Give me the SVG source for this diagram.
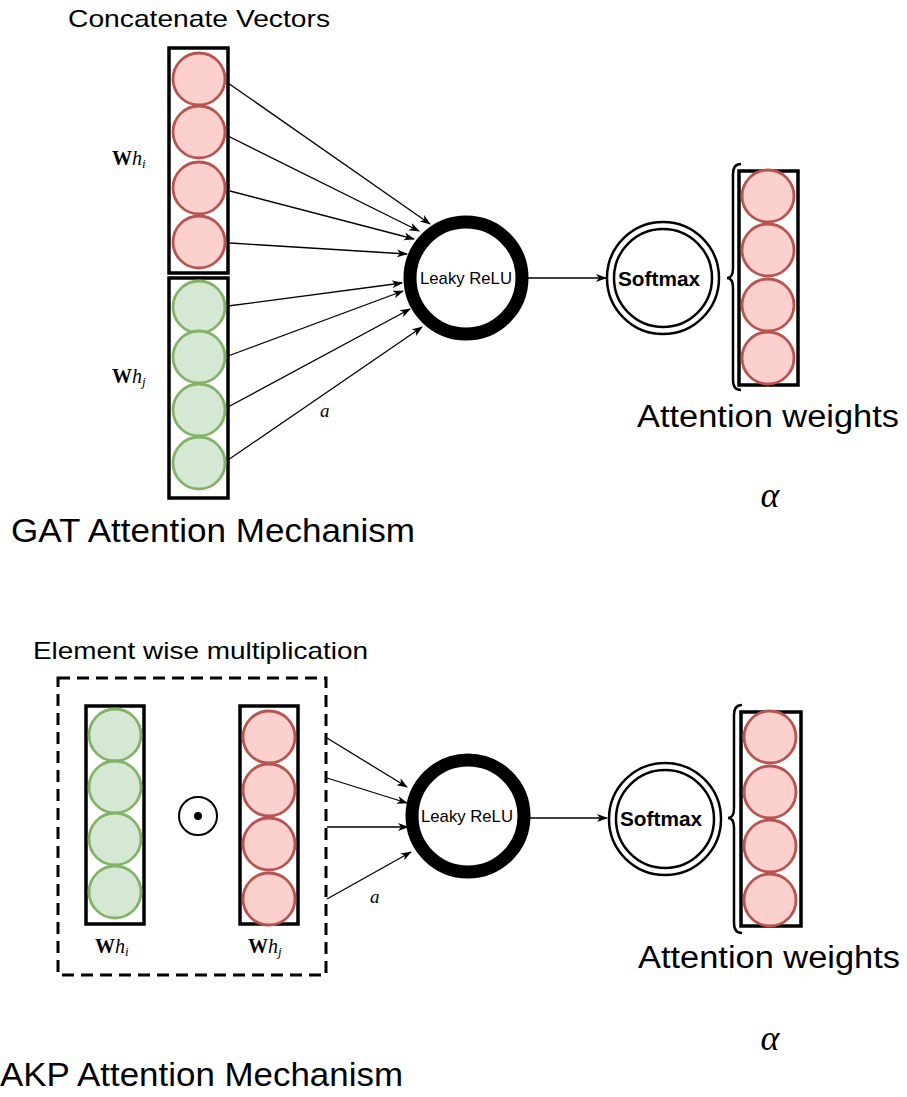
<svg xmlns="http://www.w3.org/2000/svg" width="907" height="1097" viewBox="0 0 907 1097">
<style>
.sans{font-family:"Liberation Sans",Arial,sans-serif;fill:#000}
.serif{font-family:"Liberation Serif","Times New Roman",serif;fill:#000}
.box{fill:#fff;stroke:#000;stroke-width:3.5}
.red{fill:#fcd0cc;stroke:#b85450;stroke-width:2.8}
.green{fill:#d5e8d4;stroke:#82b366;stroke-width:2.8}
.edge{stroke:#000;stroke-width:1.3;fill:none;marker-end:url(#ah)}
.relu{fill:#fff;stroke:#000;stroke-width:13}
.soft{fill:#fff;stroke:#000;stroke-width:2.5}
.brace{fill:none;stroke:#000;stroke-width:2.5}
</style>
<defs>
<marker id="ah" markerWidth="12" markerHeight="10" refX="10" refY="4" orient="auto" markerUnits="userSpaceOnUse">
<path d="M0,0 L11,4 L0,8 L3,4 z" fill="#000"/>
</marker>
</defs>
<rect width="907" height="1097" fill="#fff"/>

<!-- ===== Top: GAT ===== -->
<text class="sans" x="68" y="27" font-size="24" textLength="262" lengthAdjust="spacingAndGlyphs">Concatenate Vectors</text>

<g id="wh_i_concat">
<rect class="box" x="169" y="48" width="59" height="225"/>
<circle class="red" cx="199" cy="79" r="26"/>
<circle class="red" cx="199" cy="132" r="26"/>
<circle class="red" cx="199" cy="188" r="26"/>
<circle class="red" cx="199" cy="242" r="26"/>
</g>
<g id="wh_j_concat">
<rect class="box" x="169" y="278" width="59" height="220"/>
<circle class="green" cx="199" cy="307" r="26"/>
<circle class="green" cx="199" cy="357" r="26"/>
<circle class="green" cx="199" cy="410" r="26"/>
<circle class="green" cx="199" cy="463" r="26"/>
</g>
<text class="serif" x="112" y="165" font-size="20"><tspan font-weight="bold">W</tspan><tspan font-style="italic">h</tspan><tspan font-style="italic" font-size="13" dy="3">i</tspan></text>
<text class="serif" x="112" y="383" font-size="20"><tspan font-weight="bold">W</tspan><tspan font-style="italic">h</tspan><tspan font-style="italic" font-size="13" dy="3">j</tspan></text>

<g id="connectors_top">
<line class="edge" x1="228" y1="83" x2="430" y2="224"/>
<line class="edge" x1="228" y1="136" x2="419" y2="231"/>
<line class="edge" x1="230" y1="191" x2="414" y2="239"/>
<line class="edge" x1="230" y1="243" x2="407" y2="254"/>
<line class="edge" x1="228" y1="306" x2="402" y2="283"/>
<line class="edge" x1="228" y1="356" x2="403" y2="291"/>
<line class="edge" x1="228" y1="407" x2="410" y2="309"/>
<line class="edge" x1="228" y1="460" x2="422" y2="327"/>
<line class="edge" x1="528" y1="278" x2="606" y2="278"/>
</g>
<text class="serif" x="320" y="417" font-size="19" font-style="italic">a</text>

<g id="relu_top">
<circle class="relu" cx="466" cy="278" r="56"/>
<text class="sans" x="466" y="284" font-size="17" text-anchor="middle" textLength="92" lengthAdjust="spacingAndGlyphs">Leaky ReLU</text>
</g>
<g id="softmax_top">
<circle class="soft" cx="663" cy="278" r="56"/>
<circle class="soft" cx="663" cy="278" r="49"/>
<text class="sans" x="659" y="286" font-size="21" font-weight="bold" text-anchor="middle" textLength="82" lengthAdjust="spacingAndGlyphs">Softmax</text>
</g>
<g id="attn_top">
<path class="brace" d="M741,164 Q733,164 733,174 L733,268 Q733,278 727,278 Q733,278 733,288 L733,380 Q733,390 741,390"/>
<rect class="box" x="739" y="171" width="59" height="214"/>
<circle class="red" cx="768" cy="196" r="26"/>
<circle class="red" cx="768" cy="250" r="26"/>
<circle class="red" cx="768" cy="305" r="26"/>
<circle class="red" cx="768" cy="358" r="26"/>
<text class="sans" x="637" y="427" font-size="31" textLength="262" lengthAdjust="spacingAndGlyphs">Attention weights</text>
<text class="serif" x="770" y="507" font-size="36" font-style="italic" text-anchor="middle">α</text>
</g>
<text class="sans" x="11" y="542" font-size="34" textLength="404" lengthAdjust="spacingAndGlyphs">GAT Attention Mechanism</text>

<!-- ===== Bottom: AKP ===== -->
<text class="sans" x="33" y="659" font-size="24" textLength="335" lengthAdjust="spacingAndGlyphs">Element wise multiplication</text>

<g id="elementwise_group">
<rect x="58" y="678" width="268" height="297" fill="none" stroke="#000" stroke-width="3" stroke-dasharray="12 7"/>
<g id="wh_i_ew">
<rect class="box" x="86" y="706" width="58" height="218"/>
<circle class="green" cx="115" cy="735" r="26"/>
<circle class="green" cx="115" cy="787" r="26"/>
<circle class="green" cx="115" cy="839" r="26"/>
<circle class="green" cx="115" cy="892" r="26"/>
</g>
<g id="odot">
<circle cx="198" cy="816" r="19" fill="#fff" stroke="#000" stroke-width="2"/>
<circle cx="198" cy="816" r="4" fill="#000"/>
</g>
<g id="wh_j_ew">
<rect class="box" x="240" y="706" width="58" height="218"/>
<circle class="red" cx="269" cy="737" r="26"/>
<circle class="red" cx="269" cy="790" r="26"/>
<circle class="red" cx="269" cy="844" r="26"/>
<circle class="red" cx="269" cy="899" r="26"/>
</g>
<text class="serif" x="95" y="953" font-size="20"><tspan font-weight="bold">W</tspan><tspan font-style="italic">h</tspan><tspan font-style="italic" font-size="13" dy="3">i</tspan></text>
<text class="serif" x="248" y="953" font-size="20"><tspan font-weight="bold">W</tspan><tspan font-style="italic">h</tspan><tspan font-style="italic" font-size="13" dy="3">j</tspan></text>
</g>

<g id="connectors_bottom">
<line class="edge" x1="327" y1="738" x2="407" y2="787"/>
<line class="edge" x1="327" y1="778" x2="407" y2="803"/>
<line class="edge" x1="327" y1="827" x2="408" y2="827"/>
<line class="edge" x1="327" y1="899" x2="411" y2="852"/>
<line class="edge" x1="530" y1="818" x2="607" y2="818"/>
</g>
<text class="serif" x="370" y="903" font-size="19" font-style="italic">a</text>

<g id="relu_bottom">
<circle class="relu" cx="468" cy="816" r="56"/>
<text class="sans" x="467" y="822" font-size="17" text-anchor="middle" textLength="92" lengthAdjust="spacingAndGlyphs">Leaky ReLU</text>
</g>
<g id="softmax_bottom">
<circle class="soft" cx="665" cy="819" r="56"/>
<circle class="soft" cx="665" cy="819" r="49"/>
<text class="sans" x="661" y="826" font-size="21" font-weight="bold" text-anchor="middle" textLength="82" lengthAdjust="spacingAndGlyphs">Softmax</text>
</g>
<g id="attn_bottom">
<path class="brace" d="M742,705 Q734,705 734,715 L734,808 Q734,818 728,818 Q734,818 734,828 L734,923 Q734,933 742,933"/>
<rect class="box" x="741" y="712" width="60" height="214"/>
<circle class="red" cx="770" cy="737" r="26"/>
<circle class="red" cx="770" cy="792" r="26"/>
<circle class="red" cx="770" cy="846" r="26"/>
<circle class="red" cx="770" cy="900" r="26"/>
<text class="sans" x="638" y="968" font-size="31" textLength="262" lengthAdjust="spacingAndGlyphs">Attention weights</text>
<text class="serif" x="770" y="1050" font-size="36" font-style="italic" text-anchor="middle">α</text>
</g>
<text class="sans" x="0" y="1086" font-size="34" textLength="403" lengthAdjust="spacingAndGlyphs">AKP Attention Mechanism</text>
</svg>
